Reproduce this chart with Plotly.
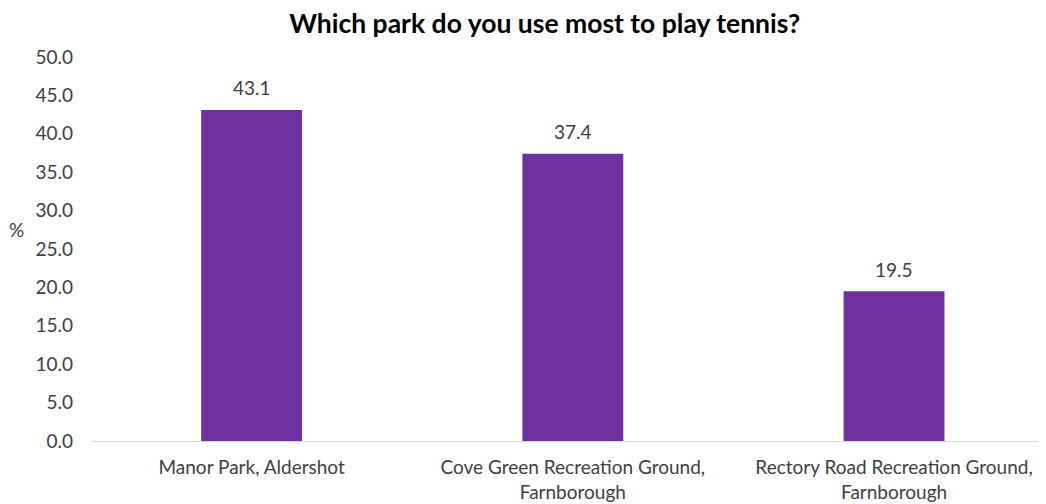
import plotly.graph_objects as go

categories = ["Manor Park, Aldershot",
              "Cove Green Recreation Ground,<br>Farnborough",
              "Rectory Road Recreation Ground,<br>Farnborough"]
values = [43.1, 37.4, 19.5]
title_text = "Which park do you use most to play tennis?"
y_ticks = [0, 5, 10, 15, 20, 25, 30, 35, 40, 45, 50]

FONT = "Lato"
TXT = "#404040"
BAR = "#7030A0"
FS = 19

fig = go.Figure()
fig.add_trace(go.Bar(
    x=categories, y=values,
    marker=dict(color=BAR, line=dict(width=0)),
    width=0.314,
    hoverinfo="skip",
))

for c, v in zip(categories, values):
    fig.add_annotation(x=c, y=v, text=f"{v:.1f}", showarrow=False,
                       yshift=22, font=dict(family=FONT, size=FS, color=TXT))

fig.add_annotation(xref="paper", yref="paper", x=-0.078, y=0.55, text="%",
                   showarrow=False, xanchor="center",
                   font=dict(family=FONT, size=FS, color=TXT))

fig.update_layout(
    width=1038, height=496,
    margin=dict(l=83, r=0, t=49, b=63),
    paper_bgcolor="white", plot_bgcolor="white",
    title=dict(text=f"<b>{title_text}</b>", x=0.517, xanchor="center",
               y=0.968, yanchor="middle",
               font=dict(family=FONT, size=26.5, color="black")),
    showlegend=False,
    xaxis=dict(range=[-0.5, 2.473], showline=True, linecolor="#D9D9D9",
               linewidth=1, ticks="", showgrid=False, automargin=False,
               ticklabelstandoff=9,
               tickfont=dict(family=FONT, size=FS, color=TXT)),
    yaxis=dict(range=[0, 50], tickvals=y_ticks, tickformat=".1f",
               showgrid=False, zeroline=False, showline=False,
               ticklabelstandoff=17, automargin=False,
               tickfont=dict(family=FONT, size=FS, color=TXT)),
)

fig.write_html("out.html")
